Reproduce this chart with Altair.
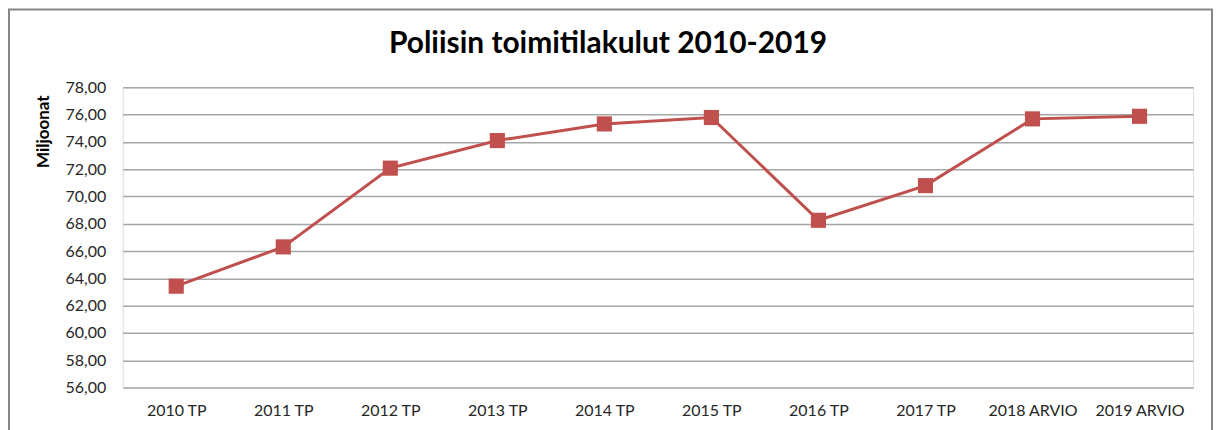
import altair as alt
import pandas as pd

categories = ["2010 TP", "2011 TP", "2012 TP", "2013 TP", "2014 TP",
              "2015 TP", "2016 TP", "2017 TP", "2018 ARVIO", "2019 ARVIO"]
values = [63.43, 66.31, 72.08, 74.10, 75.32, 75.79, 68.26, 70.80, 75.69, 75.88]
y_ticks = [56, 58, 60, 62, 64, 66, 68, 70, 72, 74, 76, 78]
title_text = "Poliisin toimitilakulut 2010-2019"

df = pd.DataFrame({"cat": categories, "val": values})

W, H = 1073, 301
PL, PT, PR, PB = 115, 79, 20, 60
FONT = "Lato"

base = alt.Chart(df).encode(
    x=alt.X("cat:N", sort=categories, scale=alt.Scale(type="point", padding=0.5),
            axis=alt.Axis(title=None, labelAngle=0, labelFont=FONT, labelFontSize=16,
                          labelColor="#262626", labelPadding=15, domain=False, ticks=False,
                          grid=False)),
    y=alt.Y("val:Q", scale=alt.Scale(domain=[56, 78], nice=False, zero=False),
            axis=alt.Axis(title="Miljoonat", values=y_ticks,
                          labelExpr="replace(format(datum.value, '.2f'), '.', ',')",
                          labelFont=FONT, labelFontSize=16, labelColor="#262626",
                          labelPadding=17, domain=False, ticks=False,
                          grid=True, gridColor="#a6a6a6", gridWidth=1.5,
                          titleFont=FONT, titleFontSize=17, titleFontWeight="bold",
                          titleColor="#000000", titleAngle=-90, titleX=-79, titleY=44,
                          titleAlign="center", titleBaseline="middle")),
)

line = base.mark_line(color="#c0504d", strokeWidth=3)
pts = base.mark_point(shape="square", filled=True, size=230, color="#c0504d", opacity=1)

one = pd.DataFrame({"t": [title_text]})
border = alt.Chart(one).mark_rect(
    fill="white", fillOpacity=0, stroke="#868686", strokeWidth=2
).encode(
    x=alt.value(-PL + 1), x2=alt.value(W + PR - 1),
    y=alt.value(-PT + 1), y2=alt.value(H + PB + 20),
)
title = alt.Chart(one).mark_text(
    font=FONT, fontSize=30, fontWeight="bold", color="#000000",
    align="center", baseline="middle"
).encode(text="t:N", x=alt.value(W / 2 - 50), y=alt.value(-43))

chart = alt.layer(border, line, pts, title).properties(
    width=W, height=H,
    autosize=alt.AutoSizeParams(type="none"),
    padding={"left": PL, "top": PT, "right": PR, "bottom": PB},
).configure_view(stroke=None).configure(background="white")

chart.save("out.html", embed_options={"renderer": "svg", "actions": False})
